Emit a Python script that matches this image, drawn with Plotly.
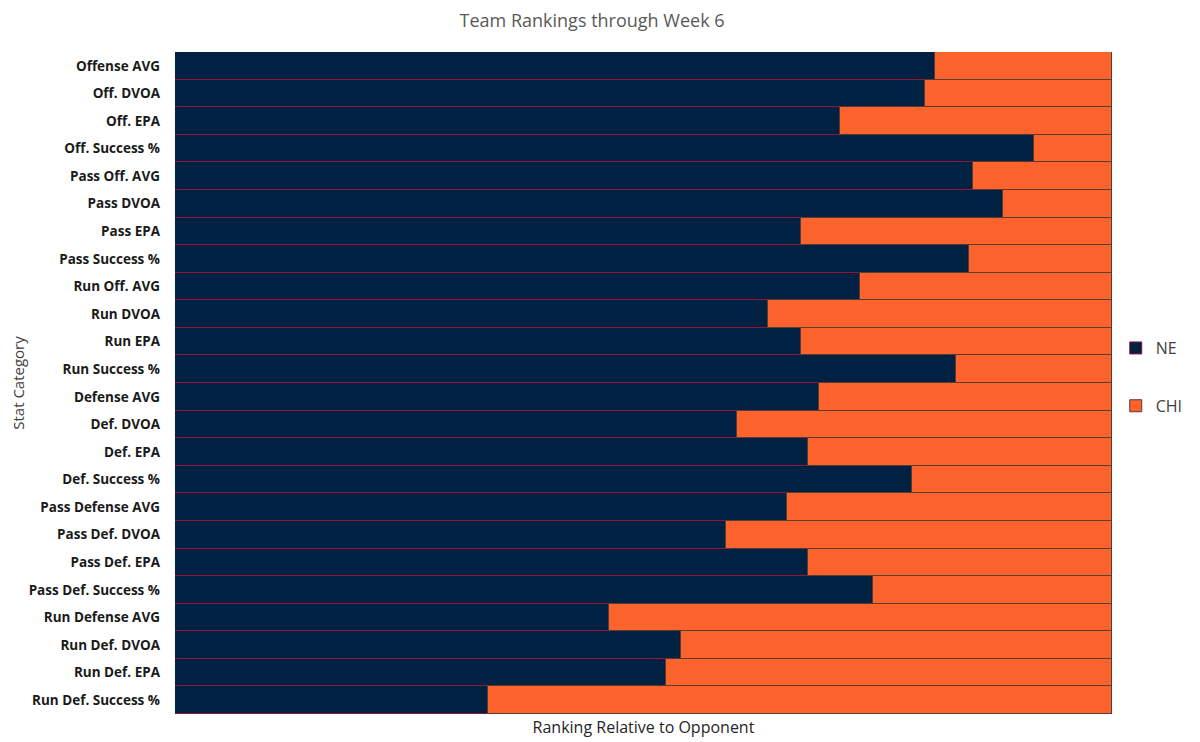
import plotly.graph_objects as go

categories = [
    "Offense AVG", "Off. DVOA", "Off. EPA", "Off. Success %",
    "Pass Off. AVG", "Pass DVOA", "Pass EPA", "Pass Success %",
    "Run Off. AVG", "Run DVOA", "Run EPA", "Run Success %",
    "Defense AVG", "Def. DVOA", "Def. EPA", "Def. Success %",
    "Pass Defense AVG", "Pass Def. DVOA", "Pass Def. EPA", "Pass Def. Success %",
    "Run Defense AVG", "Run Def. DVOA", "Run Def. EPA", "Run Def. Success %",
]

ne_share = [81.1, 80.0, 71.0, 91.7, 85.2, 88.4, 66.8, 84.7,
            73.1, 63.3, 66.8, 83.4, 68.7, 60.0, 67.6, 78.7,
            65.3, 58.8, 67.6, 74.5, 46.3, 54.0, 52.4, 33.4]
chi_share = [round(100 - v, 1) for v in ne_share]

NE_FILL = "#012143"
NE_LINE = "#8E1537"
CHI_FILL = "#FC632D"
CHI_LINE = "#5B3A30"

fig = go.Figure()
fig.add_trace(go.Bar(
    y=categories, x=ne_share, name="NE", orientation="h",
    marker=dict(color=NE_FILL, line=dict(color=NE_LINE, width=1)),
    legendgroup="ne",
))
fig.add_trace(go.Bar(
    y=categories, x=chi_share, name="CHI", orientation="h",
    marker=dict(color=CHI_FILL, line=dict(color=CHI_LINE, width=1)),
    legendgroup="chi",
))

fig.update_layout(
    barmode="stack",
    bargap=0,
    width=1192, height=734,
    margin=dict(l=167, r=88, t=44, b=28, autoexpand=False),
    paper_bgcolor="white",
    plot_bgcolor="white",
    font=dict(family="Open Sans, Liberation Sans, sans-serif", color="#404040"),
    title=dict(
        text="Team Rankings through Week 6",
        x=0.49, xanchor="center", y=0.983, yanchor="middle",
        font=dict(size=18, color="#595959"),
    ),
    showlegend=True,
    legend=dict(
        x=1.004, xanchor="left", y=0.509, yanchor="middle",
        traceorder="grouped", tracegroupgap=34, itemwidth=30,
        font=dict(size=16, color="#404040"),
        bgcolor="rgba(0,0,0,0)",
    ),
    xaxis=dict(
        range=[0, 100], showticklabels=False, showgrid=False, zeroline=False,
        ticks="", showline=False,
        title=dict(text="Ranking Relative to Opponent", standoff=7,
                   font=dict(size=16, color="#262626")),
    ),
    yaxis=dict(
        autorange="reversed", showgrid=False, zeroline=False, ticks="",
        ticklabelstandoff=14,
        tickfont=dict(family="Open Sans, Liberation Sans, sans-serif", size=13.5,
                      color="#1a1a1a", weight="bold"),
        title=dict(text="Stat Category", standoff=3,
                   font=dict(size=15, color="#404040")),
    ),
)

fig.write_html("out.html")
